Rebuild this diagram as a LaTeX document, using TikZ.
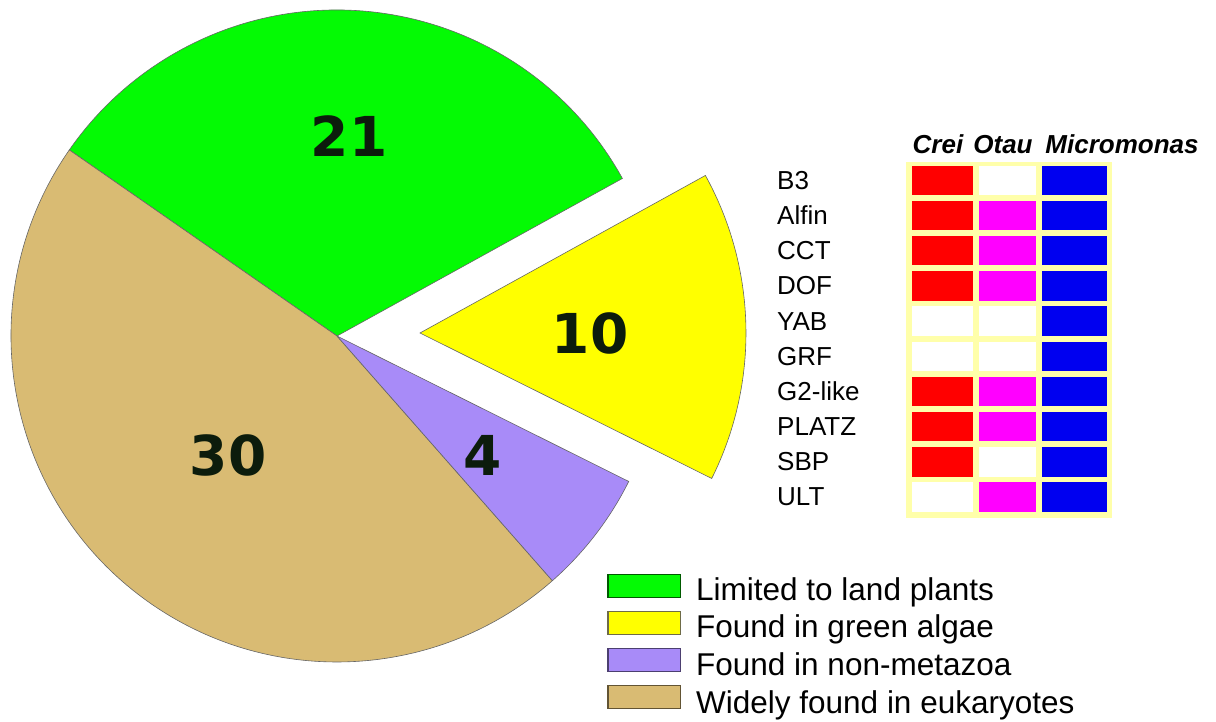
\documentclass[tikz,border=0pt]{standalone}
\usepackage{fontspec}
\setmainfont{Liberation Sans}
\newfontfamily\numfont{DejaVu Sans}
\usepackage{tikz}
\definecolor{landgreen}{RGB}{4,250,4}
\definecolor{algaeyellow}{RGB}{255,255,0}
\definecolor{nonmetapurple}{RGB}{168,139,248}
\definecolor{eukbrown}{RGB}{217,187,115}
\definecolor{numdark}{RGB}{12,28,12}
\definecolor{frameyellow}{RGB}{255,255,170}
\definecolor{cellred}{RGB}{255,0,0}
\definecolor{cellpink}{RGB}{255,0,255}
\definecolor{cellblue}{RGB}{0,0,240}
\tikzstyle{slice}=[draw=black!60, line width=0.6pt]
\tikzstyle{bignum}=[text=numdark, font=\numfont\bfseries\fontsize{55}{55}\selectfont]
\tikzstyle{famlabel}=[anchor=west, inner sep=0pt, font=\fontsize{26}{26}\selectfont]
\tikzstyle{species}=[anchor=base, inner sep=0pt, font=\bfseries\itshape\fontsize{26}{26}\selectfont]
\tikzstyle{legbox}=[line width=1.2pt]
\tikzstyle{legtext}=[anchor=base west, inner sep=0pt, font=\fontsize{31.5}{31.5}\selectfont]

\begin{document}
\begin{tikzpicture}[x=1pt,y=1pt]
        \useasboundingbox (0,0) rectangle (1216,721);

        % pie
        \filldraw[slice, fill=landgreen] (337,385) -- ++(28.9:326pt) arc[start angle=28.9, end angle=145.2, radius=326pt] -- cycle;
        \filldraw[slice, fill=eukbrown] (337,385) -- ++(145.2:326pt) arc[start angle=145.2, end angle=311.35, radius=326pt] -- cycle;
        \filldraw[slice, fill=nonmetapurple] (337,385) -- ++(311.35:326pt) arc[start angle=311.35, end angle=333.5, radius=326pt] -- cycle;
        \filldraw[slice, fill=algaeyellow] (420,388) -- ++(333.5:326pt) arc[start angle=333.5, end angle=388.9, radius=326pt] -- cycle;

        \node[bignum] (n21) at (349,585) {21};
        \node[bignum] (n10) at (590,388) {10};
        \node[bignum] (n30) at (228,266) {30};
        \node[bignum] (n4) at (483,266) {4};

        % table
        \fill[frameyellow] (905.7,202.7) rectangle (1111.7,559.3);
        \foreach \fam/\ca/\cb/\cc [count=\i from 0] in {B3/cellred/white/cellblue, Alfin/cellred/cellpink/cellblue, CCT/cellred/cellpink/cellblue, DOF/cellred/cellpink/cellblue, YAB/white/white/cellblue, GRF/white/white/cellblue, G2-like/cellred/cellpink/cellblue, PLATZ/cellred/cellpink/cellblue, SBP/cellred/white/cellblue, ULT/white/cellpink/cellblue}
        {
            \fill[\ca] (911.7,{555.3-35.2*\i}) rectangle (973.3,{526-35.2*\i});
            \fill[\cb] (979.3,{555.3-35.2*\i}) rectangle (1036,{526-35.2*\i});
            \fill[\cc] (1041.7,{555.3-35.2*\i}) rectangle (1106.7,{526-35.2*\i});
            \node[famlabel] (fam\i) at (777,{540.65-35.2*\i}) {\fam};
        }

        \node[species] (crei) at (938,567.7) {Crei};
        \node[species] (otau) at (1003,567.7) {Otau};
        \node[species] (micro) at (1122,567.7) {Micromonas};

        % legend
        \filldraw[legbox, draw=green!35!black, fill=landgreen] (608,123.5) rectangle (680.7,146.5);
        \filldraw[legbox, draw=yellow!35!black, fill=algaeyellow] (608,86.5) rectangle (680.7,109.5);
        \filldraw[legbox, draw=nonmetapurple!45!black, fill=nonmetapurple] (608,49.5) rectangle (680.7,72.5);
        \filldraw[legbox, draw=eukbrown!45!black, fill=eukbrown] (608,12.5) rectangle (680.7,35.5);

        \node[legtext] (leg1) at (696,121) {Limited to land plants};
        \node[legtext] (leg2) at (696,83.5) {Found in green algae};
        \node[legtext] (leg3) at (696,46) {Found in non-metazoa};
        \node[legtext] (leg4) at (696,8) {Widely found in eukaryotes};
\end{tikzpicture}
\end{document}
